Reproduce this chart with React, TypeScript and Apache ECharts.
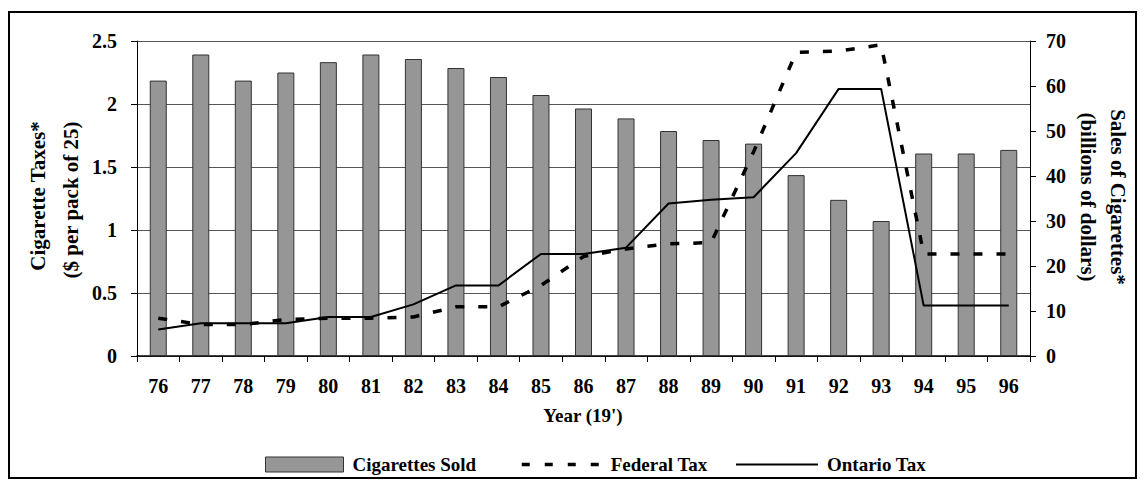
import React, { useEffect, useRef } from "react";
import * as echarts from "echarts";

const years = ["76", "77", "78", "79", "80", "81", "82", "83", "84", "85", "86", "87", "88", "89", "90", "91", "92", "93", "94", "95", "96"];
const cigarettesSold = [61.2, 67, 61.2, 63, 65.3, 67, 66, 64, 62, 58, 55, 52.8, 50, 48, 47.2, 40.2, 34.7, 30, 45, 45, 45.8];
const federalTax = [0.3, 0.25, 0.25, 0.29, 0.3, 0.3, 0.31, 0.39, 0.39, 0.56, 0.79, 0.85, 0.89, 0.9, 1.62, 2.41, 2.42, 2.47, 0.81, 0.81, 0.81];
const ontarioTax = [0.21, 0.26, 0.26, 0.26, 0.31, 0.31, 0.41, 0.56, 0.56, 0.81, 0.81, 0.86, 1.21, 1.24, 1.26, 1.61, 2.12, 2.12, 0.4, 0.4, 0.4];
const leftTicks = { min: 0, max: 2.5, interval: 0.5 };
const rightTicks = { min: 0, max: 70, interval: 10 };

const FONT = '"Liberation Serif", "Times New Roman", serif';

export default function App() {
  const ref = useRef<HTMLDivElement>(null);
  useEffect(() => {
    document.body.style.margin = "0";
    if (!ref.current) return;
    const chart = echarts.init(ref.current, undefined, { renderer: "svg" });
    const labelStyle = { color: "#000", fontFamily: FONT, fontWeight: "bold" as const, fontSize: 20 };
    const legendText = { color: "#000", fontFamily: FONT, fontWeight: "bold" as const, fontSize: 19, padding: [0, 0, 0, 4] };
    chart.setOption({
      animation: false,
      backgroundColor: "#fff",
      grid: { left: 137, top: 41, right: 115, bottom: 130 },
      xAxis: {
        type: "category",
        data: years,
        boundaryGap: true,
        axisLine: { lineStyle: { color: "#000", width: 1.5 } },
        axisTick: { show: true, length: 6, lineStyle: { color: "#000" } },
        axisLabel: { ...labelStyle, margin: 20 },
      },
      yAxis: [
        {
          type: "value",
          position: "left",
          min: leftTicks.min,
          max: leftTicks.max,
          interval: leftTicks.interval,
          axisLine: { show: true, lineStyle: { color: "#000" } },
          axisTick: { show: true, length: 6, lineStyle: { color: "#000" } },
          axisLabel: { ...labelStyle, margin: 20 },
          splitLine: { show: true, lineStyle: { color: "#555", width: 1 } },
        },
        {
          type: "value",
          position: "right",
          min: rightTicks.min,
          max: rightTicks.max,
          interval: rightTicks.interval,
          axisLine: { show: true, lineStyle: { color: "#000" } },
          axisTick: { show: true, length: 6, lineStyle: { color: "#000" } },
          axisLabel: { ...labelStyle, margin: 16 },
          splitLine: { show: false },
        },
      ],
      legend: [
        {
          left: 260, top: 450, itemWidth: 78, itemHeight: 15, textStyle: legendText,
          data: [{ name: "Cigarettes Sold", icon: "rect", itemStyle: { color: "#969696", borderColor: "#333", borderWidth: 1 } }],
        },
        {
          left: 515, top: 450, itemWidth: 80, itemHeight: 15, textStyle: legendText,
          data: [{ name: "Federal Tax", itemStyle: { opacity: 0 }, lineStyle: { color: "#000", width: 3.5, type: [8, 15], opacity: 1 } }],
        },
        {
          left: 730, top: 450, itemWidth: 82, itemHeight: 15, textStyle: legendText,
          data: [{ name: "Ontario Tax", itemStyle: { opacity: 0 }, lineStyle: { color: "#000", width: 2, type: "solid", opacity: 1 } }],
        },
      ],
      graphic: [
        { type: "rect", silent: true, z: -1, shape: { x: 9, y: 12, width: 1127, height: 466 }, style: { fill: "none", stroke: "#000", lineWidth: 2 } },
        { type: "text", x: 38, y: 196, rotation: Math.PI / 2, style: { text: "Cigarette Taxes*", align: "center", verticalAlign: "middle", fill: "#000", font: `bold 21px ${FONT}` } },
        { type: "text", x: 71, y: 200, rotation: Math.PI / 2, style: { text: "($ per pack of 25)", align: "center", verticalAlign: "middle", fill: "#000", font: `bold 21px ${FONT}` } },
        { type: "text", x: 1118, y: 197, rotation: -Math.PI / 2, style: { text: "Sales of Cigarettes*", align: "center", verticalAlign: "middle", fill: "#000", font: `bold 21px ${FONT}` } },
        { type: "text", x: 1088, y: 197, rotation: -Math.PI / 2, style: { text: "(billions of dollars)", align: "center", verticalAlign: "middle", fill: "#000", font: `bold 21px ${FONT}` } },
        { type: "text", x: 583, y: 415, style: { text: "Year (19')", align: "center", verticalAlign: "middle", fill: "#000", font: `bold 19px ${FONT}` } },
      ],
      series: [
        {
          name: "Cigarettes Sold",
          type: "bar",
          yAxisIndex: 1,
          data: cigarettesSold,
          barWidth: 17,
          itemStyle: { color: "#969696", borderColor: "#333", borderWidth: 1 },
        },
        {
          name: "Federal Tax",
          type: "line",
          yAxisIndex: 0,
          data: federalTax,
          symbol: "none",
          showSymbol: false,
          lineStyle: { color: "#000", width: 3.5, type: [9, 14] },
          itemStyle: { color: "#000" },
        },
        {
          name: "Ontario Tax",
          type: "line",
          yAxisIndex: 0,
          data: ontarioTax,
          symbol: "none",
          showSymbol: false,
          lineStyle: { color: "#000", width: 2 },
          itemStyle: { color: "#000" },
        },
      ],
    });
    return () => chart.dispose();
  }, []);
  return <div ref={ref} style={{ width: 1145, height: 486 }} />;
}
